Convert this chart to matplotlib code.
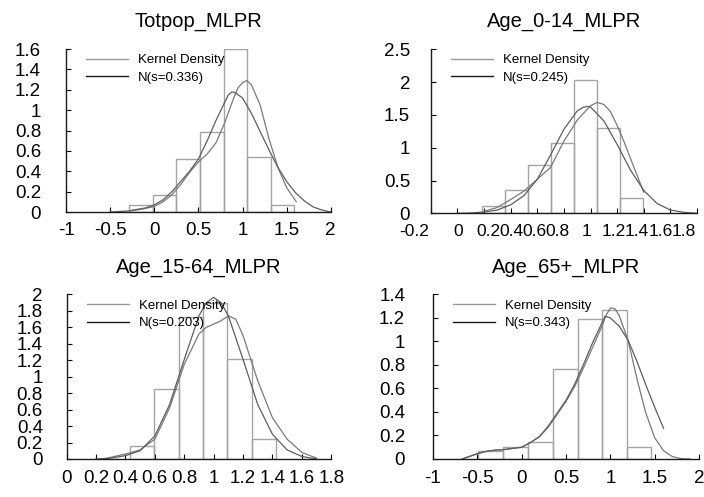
"""Four histogram panels (MLPR by age group) with kernel density and normal curves."""
import matplotlib
matplotlib.use("Agg")
import matplotlib.pyplot as plt
import numpy as np
from matplotlib.lines import Line2D
from matplotlib.ticker import FuncFormatter

plt.rcParams["font.family"] = ["Liberation Sans", "DejaVu Sans"]

# ---- Totpop_MLPR ----
totpop_edges = [-0.283, -0.017, 0.251, 0.518, 0.785, 1.052, 1.32, 1.578]
totpop_hist = [0.065, 0.17, 0.52, 0.79, 1.60, 0.54, 0.065]
totpop_kde_x = [-0.28, -0.2, -0.1, 0.0, 0.1, 0.2, 0.3, 0.4, 0.5, 0.6, 0.7, 0.8, 0.9,
                0.95, 1.0, 1.05, 1.1, 1.2, 1.3, 1.4, 1.5, 1.61]
totpop_kde_y = [0.01, 0.02, 0.035, 0.055, 0.10, 0.17, 0.27, 0.39, 0.49, 0.57, 0.68, 0.88, 1.12,
                1.22, 1.27, 1.29, 1.25, 1.05, 0.72, 0.44, 0.24, 0.10]
totpop_norm_x = [-0.5, -0.3, -0.1, 0.0, 0.1, 0.2, 0.3, 0.4, 0.5, 0.6, 0.7, 0.8, 0.84, 0.88, 0.92,
                 1.0, 1.1, 1.2, 1.3, 1.4, 1.5, 1.6, 1.7, 1.8, 1.9, 2.0]
totpop_norm_y = [0.0, 0.01, 0.04, 0.07, 0.12, 0.20, 0.30, 0.40, 0.52, 0.70, 0.90, 1.08, 1.15, 1.18,
                 1.17, 1.12, 0.97, 0.79, 0.61, 0.44, 0.30, 0.19, 0.11, 0.05, 0.02, 0.0]

# ---- Age_0-14_MLPR ----
age014_edges = [0.188, 0.360, 0.532, 0.704, 0.876, 1.048, 1.220, 1.392]
age014_hist = [0.105, 0.35, 0.73, 1.07, 2.03, 1.305, 0.23]
age014_kde_x = [0.20, 0.3, 0.4, 0.5, 0.6, 0.7, 0.8, 0.9, 1.0, 1.05, 1.1, 1.15, 1.2, 1.25,
                1.3, 1.35, 1.4]
age014_kde_y = [0.03, 0.09, 0.21, 0.34, 0.52, 0.70, 1.10, 1.42, 1.64, 1.69, 1.66, 1.55, 1.34,
                1.10, 0.84, 0.58, 0.32]
age014_norm_x = [0.0, 0.1, 0.2, 0.3, 0.4, 0.5, 0.6, 0.7, 0.8, 0.9, 0.94, 0.97, 1.0, 1.1, 1.2,
                 1.3, 1.4, 1.5, 1.6, 1.7, 1.8]
age014_norm_y = [0.0, 0.005, 0.02, 0.05, 0.13, 0.27, 0.52, 0.89, 1.28, 1.56, 1.61, 1.63, 1.62,
                 1.41, 1.05, 0.66, 0.35, 0.15, 0.05, 0.015, 0.0]

# ---- Age_15-64_MLPR ----
age1564_edges = [0.431, 0.596, 0.761, 0.927, 1.092, 1.258, 1.425]
age1564_hist = [0.158, 0.846, 1.73, 1.90, 1.21, 0.243]
age1564_kde_x = [0.25, 0.3, 0.4, 0.5, 0.6, 0.7, 0.8, 0.9, 0.95, 1.0, 1.05, 1.1, 1.15, 1.2,
                 1.3, 1.4, 1.5, 1.6, 1.7]
age1564_kde_y = [0.0, 0.02, 0.06, 0.11, 0.24, 0.62, 1.15, 1.52, 1.60, 1.64, 1.68, 1.74, 1.70,
                 1.50, 0.95, 0.50, 0.24, 0.08, 0.01]
age1564_norm_x = [0.2, 0.3, 0.4, 0.5, 0.6, 0.7, 0.8, 0.9, 0.95, 1.0, 1.05, 1.1, 1.2, 1.3,
                  1.4, 1.5, 1.6, 1.7]
age1564_norm_y = [0.0, 0.01, 0.04, 0.10, 0.28, 0.66, 1.21, 1.74, 1.90, 1.965, 1.90, 1.74, 1.21,
                  0.66, 0.30, 0.11, 0.03, 0.0]

# ---- Age_65+_MLPR ----
age65_edges = [-0.487, -0.207, 0.072, 0.352, 0.63, 0.906, 1.185, 1.46]
age65_hist = [0.07, 0.10, 0.148, 0.77, 1.195, 1.27, 0.10]
age65_kde_x = [-0.67, -0.5, -0.4, -0.3, -0.2, -0.1, 0.0, 0.1, 0.2, 0.3, 0.4, 0.5, 0.6, 0.7,
               0.8, 0.9, 0.95, 1.0, 1.05, 1.1, 1.2, 1.3, 1.4, 1.5, 1.6, 1.7, 1.8, 1.9]
age65_kde_y = [0.0, 0.045, 0.065, 0.075, 0.08, 0.09, 0.10, 0.14, 0.19, 0.27, 0.38, 0.49, 0.62,
               0.78, 0.95, 1.12, 1.22, 1.285, 1.28, 1.22, 1.01, 0.68, 0.39, 0.18, 0.07, 0.02,
               0.003, 0.0]
age65_norm_x = [-0.67, -0.5, -0.4, -0.3, -0.2, -0.1, 0.0, 0.1, 0.2, 0.3, 0.4, 0.5, 0.6, 0.7,
                0.8, 0.9, 0.94, 1.0, 1.1, 1.2, 1.3, 1.4, 1.5, 1.6]
age65_norm_y = [0.0, 0.045, 0.065, 0.075, 0.08, 0.09, 0.10, 0.14, 0.19, 0.28, 0.39, 0.50, 0.64,
                0.81, 0.99, 1.15, 1.215, 1.20, 1.13, 1.01, 0.83, 0.63, 0.44, 0.26]

panels = [
    dict(title="Totpop_MLPR", edges=totpop_edges, hist=totpop_hist,
         kde=(totpop_kde_x, totpop_kde_y), norm=(totpop_norm_x, totpop_norm_y),
         s="0.336", xlim=(-1, 2), xticks=np.arange(-1, 2.01, 0.5),
         ylim=(0, 1.6), yticks=np.arange(0, 1.61, 0.2)),
    dict(title="Age_0-14_MLPR", edges=age014_edges, hist=age014_hist,
         kde=(age014_kde_x, age014_kde_y), norm=(age014_norm_x, age014_norm_y),
         s="0.245", xlim=(-0.2, 1.8), xticks=np.arange(-0.2, 1.81, 0.2),
         ylim=(0, 2.5), yticks=np.arange(0, 2.51, 0.5)),
    dict(title="Age_15-64_MLPR", edges=age1564_edges, hist=age1564_hist,
         kde=(age1564_kde_x, age1564_kde_y), norm=(age1564_norm_x, age1564_norm_y),
         s="0.203", xlim=(0, 1.8), xticks=np.arange(0, 1.81, 0.2),
         ylim=(0, 2), yticks=np.arange(0, 2.01, 0.2)),
    dict(title="Age_65+_MLPR", edges=age65_edges, hist=age65_hist,
         kde=(age65_kde_x, age65_kde_y), norm=(age65_norm_x, age65_norm_y),
         s="0.343", xlim=(-1, 2), xticks=np.arange(-1, 2.01, 0.5),
         ylim=(0, 1.4), yticks=np.arange(0, 1.41, 0.2)),
]

rects = [(0.0938, 0.5734, 0.376, 0.328),
         (0.612, 0.5708, 0.378, 0.330),
         (0.0946, 0.0765, 0.376, 0.331),
         (0.615, 0.0765, 0.378, 0.331)]
ypads = [18, 15, 17, 20]
xpads = [7.5, 7.5, 8, 8]
# the Age_0-14 x labels are packed edge to edge in the source, drifting off their ticks (pt)
age014_label_shift = [-12, 0.7, 3, 0.4, -2, -4.7, -2.6, -2.4, -4.8, -7.2, -9.6]

def label(v):
    return f"{round(v, 2):g}" if abs(v) > 1e-9 else "0"

fmt = FuncFormatter(lambda v, _: label(v))

fig = plt.figure(figsize=(7.04, 4.97), dpi=100)
for i, (p, rect, yp, xp) in enumerate(zip(panels, rects, ypads, xpads)):
    ax = fig.add_axes(rect)
    edges = np.array(p["edges"])
    ax.bar(edges[:-1], p["hist"], width=np.diff(edges), align="edge",
           facecolor="none", edgecolor="#a4a4a4", linewidth=1.0, zorder=1)
    ax.plot(*p["kde"], color="#7a7a7a", lw=0.9, zorder=2)
    ax.plot(*p["norm"], color="#5e5e5e", lw=0.9, zorder=2)

    ax.set_xlim(*p["xlim"])
    ax.set_ylim(*p["ylim"])
    ax.set_xticks(p["xticks"])
    ax.set_yticks(p["yticks"])
    ax.xaxis.set_major_formatter(fmt)
    ax.yaxis.set_major_formatter(fmt)
    for side in ("top", "right"):
        ax.spines[side].set_visible(False)
    for side in ("left", "bottom"):
        ax.spines[side].set_color("#1a1a1a")
        ax.spines[side].set_linewidth(1.0)
    ax.tick_params(axis="both", direction="in", length=3.5, width=0.8, labelsize=13.5)
    ax.tick_params(axis="y", pad=yp)
    ax.tick_params(axis="x", pad=xp)
    ax.set_title(p["title"], fontsize=14.5, pad=16)

    if i == 1:
        ax.tick_params(axis="x", labelbottom=False)
        for v, dx in zip(p["xticks"], age014_label_shift):
            ax.annotate(label(v), xy=(v, 0), xycoords=("data", "axes fraction"),
                        xytext=(dx, -xp), textcoords="offset points",
                        ha="center", va="top", fontsize=12.5)

    handles = [Line2D([], [], color="#9a9a9a", lw=1.0),
               Line2D([], [], color="#1a1a1a", lw=1.0)]
    ax.legend(handles, ["Kernel Density", f"N(s={p['s']})"], loc="upper left",
              bbox_to_anchor=(0.076, 0.97), frameon=False, fontsize=9.5,
              handlelength=3.2, handletextpad=0.75, labelspacing=0.4,
              borderpad=0, borderaxespad=0)

fig.savefig("out.png", dpi=100)
